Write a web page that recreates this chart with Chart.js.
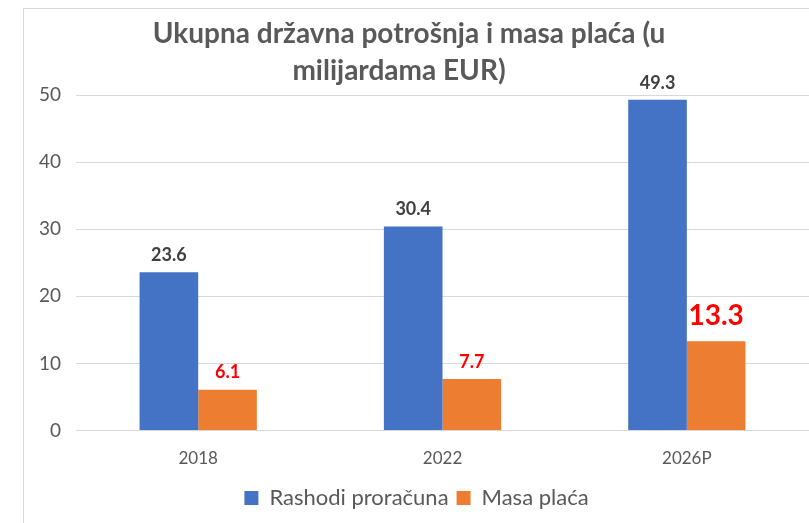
<!DOCTYPE html>
<html>
<head>
<meta charset="utf-8">
<script src="https://cdn.jsdelivr.net/npm/chart.js@4/dist/chart.umd.min.js"></script>
<style>
  html, body { margin: 0; padding: 0; background: #fff; }
  #frame {
    position: absolute; left: 23px; top: 8px; width: 786px; height: 515px;
    border-left: 1px solid #d9d9d9; border-top: 1px solid #d9d9d9; box-sizing: border-box;
  }
  #chart { display: block; }
</style>
</head>
<body>
<div id="frame"><canvas id="chart" width="785" height="514"></canvas></div>
<script>
// Data
const years = ["2018", "2022", "2026P"];
const rashodi = [23.6, 30.4, 49.3];
const masaPlaca = [6.1, 7.7, 13.3];
const yTicks = [0, 10, 20, 30, 40, 50];

const FONT = "Lato, 'Open Sans', sans-serif";
const BLUE = "#4472C4";
const ORANGE = "#ED7D31";

// Value labels above bars
const valueLabels = {
  id: "valueLabels",
  afterDatasetsDraw(chart) {
    const ctx = chart.ctx;
    ctx.save();
    ctx.textAlign = "center";
    ctx.textBaseline = "middle";
    chart.data.datasets.forEach((ds, di) => {
      chart.getDatasetMeta(di).data.forEach((bar, i) => {
        const big = di === 1 && i === 2;
        ctx.fillStyle = di === 0 ? "#404040" : "#FF0000";
        ctx.font = `bold ${big ? 28 : 18}px ${FONT}`;
        ctx.fillText(ds.data[i].toFixed(1), bar.x, bar.y - (big ? 25 : 17));
      });
    });
    ctx.restore();
  }
};

// Title drawn centred above the plot
const titleLines = {
  id: "titleLines",
  afterDraw(chart) {
    const ctx = chart.ctx;
    ctx.save();
    ctx.fillStyle = "#595959";
    ctx.font = `bold 28px ${FONT}`;
    ctx.textAlign = "center";
    ctx.textBaseline = "middle";
    ctx.fillText("Ukupna državna potrošnja i masa plaća (u", 385, 25);
    ctx.fillText("milijardama EUR)", 375, 62);
    ctx.restore();
  }
};

new Chart(document.getElementById("chart"), {
  type: "bar",
  data: {
    labels: years,
    datasets: [
      { label: "Rashodi proračuna", data: rashodi, backgroundColor: BLUE },
      { label: "Masa plaća", data: masaPlaca, backgroundColor: ORANGE }
    ]
  },
  options: {
    responsive: false,
    animation: false,
    layout: { padding: { top: 86, left: 0, right: 0, bottom: 4 } },
    datasets: { bar: { categoryPercentage: 0.48, barPercentage: 1 } },
    scales: {
      x: {
        grid: { display: false },
        border: { color: "#d9d9d9", width: 1 },
        ticks: { color: "#595959", font: { family: FONT, size: 17 }, padding: 10 }
      },
      y: {
        min: 0, max: 50,
        afterBuildTicks: axis => { axis.ticks = yTicks.map(v => ({ value: v })); },
        grid: { color: "#d9d9d9", drawTicks: false },
        border: { display: false },
        ticks: { color: "#595959", font: { family: FONT, size: 19 }, padding: 15 }
      }
    },
    plugins: {
      legend: {
        position: "bottom",
        labels: {
          color: "#595959", font: { family: FONT, size: 22 },
          boxWidth: 14, boxHeight: 14, padding: 8
        }
      },
      tooltip: { enabled: false }
    }
  },
  plugins: [valueLabels, titleLines]
});
</script>
</body>
</html>
